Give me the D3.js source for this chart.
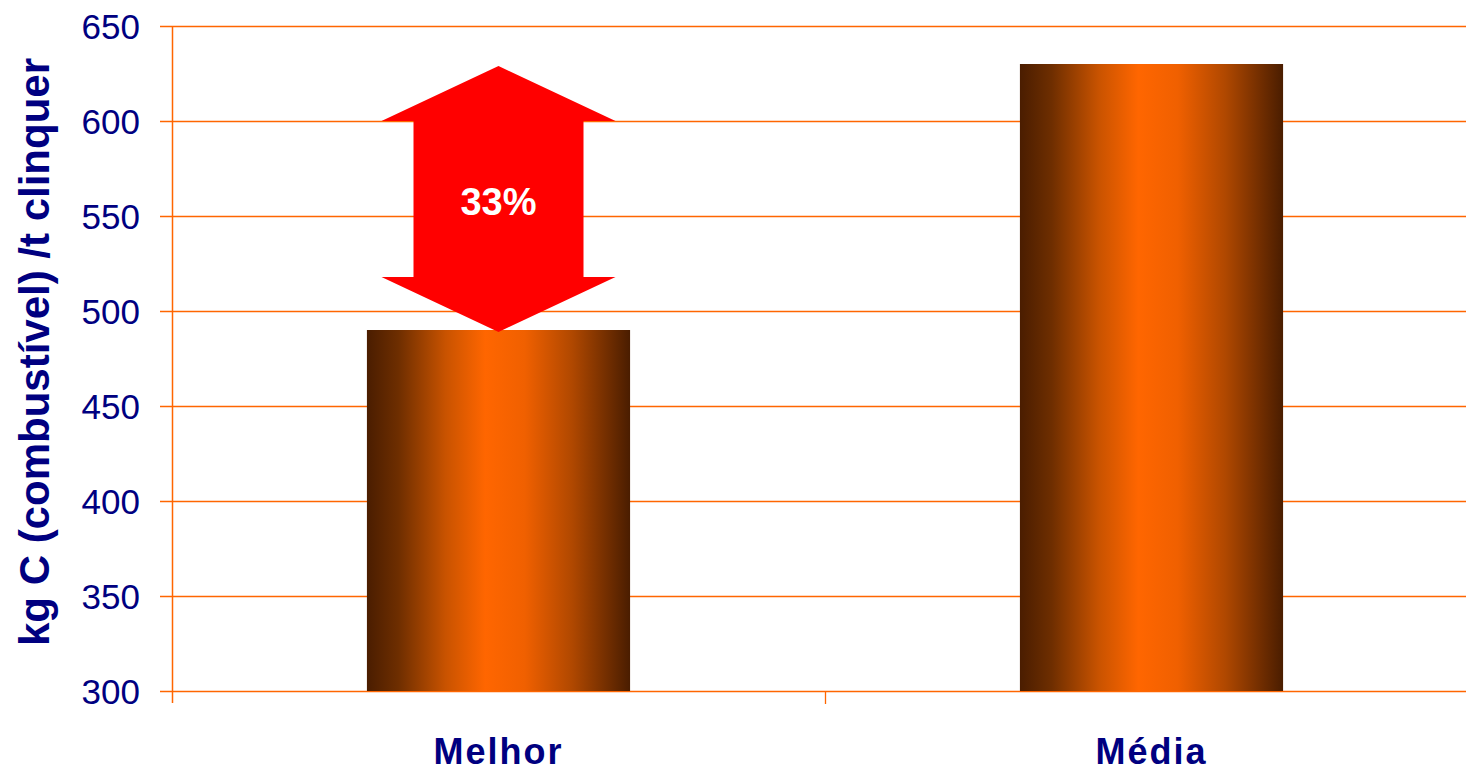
<!DOCTYPE html>
<html>
<head>
<meta charset="utf-8">
<script src="https://cdn.jsdelivr.net/npm/d3@7"></script>
<style>
  html, body { margin: 0; padding: 0; background: #fff; }
  svg { display: block; font-family: "Liberation Sans", Arial, sans-serif; }
</style>
</head>
<body>
<svg id="chart" width="1466" height="773"></svg>
<script>
// Fuel carbon per tonne of clinker: best practice vs average
const categories = ["Melhor", "Média"];
const values = [490, 630];
const yTicks = [300, 350, 400, 450, 500, 550, 600, 650];
const gapLabel = "33%";
const yLabel = "kg C (combustível) /t clinquer";

const svg = d3.select("#chart");
const W = 1466, H = 773;
const plotLeft = 172, plotRight = 1478, plotTop = 26, plotBottom = 691;
const gridColor = "#ff6600";
const textColor = "#000080";

const x = d3.scaleBand().domain(categories).range([plotLeft, plotRight]).padding(0);
const y = d3.scaleLinear().domain([300, 650]).range([plotBottom, plotTop]);
const barFrac = 0.403;

// bar gradient: dark brown edges, bright orange core
const defs = svg.append("defs");
const grad = defs.append("linearGradient").attr("id", "barGrad")
  .attr("x1", "0%").attr("x2", "100%").attr("y1", "0%").attr("y2", "0%");
[[0, "#4a1d00"], [0.12, "#6e2e00"], [0.3, "#c95300"], [0.45, "#ff6600"], [0.6, "#f06000"], [0.78, "#b04800"], [1, "#4a1d00"]]
  .forEach(([o, c]) => grad.append("stop").attr("offset", o).attr("stop-color", c));

// horizontal gridlines with short ticks to the left of the axis
svg.append("g").selectAll("line").data(yTicks).join("line")
  .attr("x1", plotLeft - 12).attr("x2", W)
  .attr("y1", d => Math.round(y(d)) + 0.5).attr("y2", d => Math.round(y(d)) + 0.5)
  .attr("stroke", gridColor).attr("stroke-width", 1.3);

// y axis line
svg.append("line").attr("x1", plotLeft + 0.5).attr("x2", plotLeft + 0.5)
  .attr("y1", plotTop).attr("y2", plotBottom + 12)
  .attr("stroke", gridColor).attr("stroke-width", 1.5);

// category separators below the baseline
const sepX = [plotLeft + x.bandwidth(), plotRight];
svg.append("g").selectAll("line").data(sepX).join("line")
  .attr("x1", d => Math.round(d) + 0.5).attr("x2", d => Math.round(d) + 0.5)
  .attr("y1", plotBottom).attr("y2", plotBottom + 13)
  .attr("stroke", gridColor).attr("stroke-width", 1.3);

// y tick labels
svg.append("g").selectAll("text").data(yTicks).join("text")
  .attr("x", 140).attr("y", d => y(d))
  .attr("dy", "0.36em").attr("text-anchor", "end")
  .attr("font-size", 35).attr("fill", textColor)
  .text(d => d);

// bars
svg.append("g").selectAll("rect").data(values).join("rect")
  .attr("x", (d, i) => x(categories[i]) + x.bandwidth() * (1 - barFrac) / 2)
  .attr("width", x.bandwidth() * barFrac)
  .attr("y", d => y(d))
  .attr("height", d => plotBottom - y(d))
  .attr("fill", "url(#barGrad)");

// category labels
svg.append("g").selectAll("text").data(categories).join("text")
  .attr("x", d => x(d) + x.bandwidth() / 2).attr("y", 764)
  .attr("text-anchor", "middle")
  .attr("font-size", 36).attr("letter-spacing", 2)
  .attr("font-weight", "bold").attr("fill", textColor)
  .text(d => d);

// y axis title
svg.append("text")
  .attr("transform", `translate(49,352) rotate(-90)`)
  .attr("text-anchor", "middle")
  .attr("font-size", 42).attr("font-weight", "bold").attr("fill", textColor)
  .text(yLabel);

// double-headed arrow spanning the gap between the two values
const cx = x(categories[0]) + x.bandwidth() / 2;
const yTop = y(values[1]) + 2, yBot = y(values[0]) + 2;
const headH = 55, headHalf = 117, shaftHalf = 85;
const arrow = [
  [cx, yTop], [cx + headHalf, yTop + headH], [cx + shaftHalf, yTop + headH],
  [cx + shaftHalf, yBot - headH], [cx + headHalf, yBot - headH], [cx, yBot],
  [cx - headHalf, yBot - headH], [cx - shaftHalf, yBot - headH],
  [cx - shaftHalf, yTop + headH], [cx - headHalf, yTop + headH]
];
svg.append("polygon").attr("points", arrow.map(p => p.join(",")).join(" "))
  .attr("fill", "#ff0000");

svg.append("text").attr("x", cx).attr("y", 215)
  .attr("text-anchor", "middle")
  .attr("font-size", 38).attr("font-weight", "bold").attr("fill", "#fff")
  .text(gapLabel);
</script>
</body>
</html>
